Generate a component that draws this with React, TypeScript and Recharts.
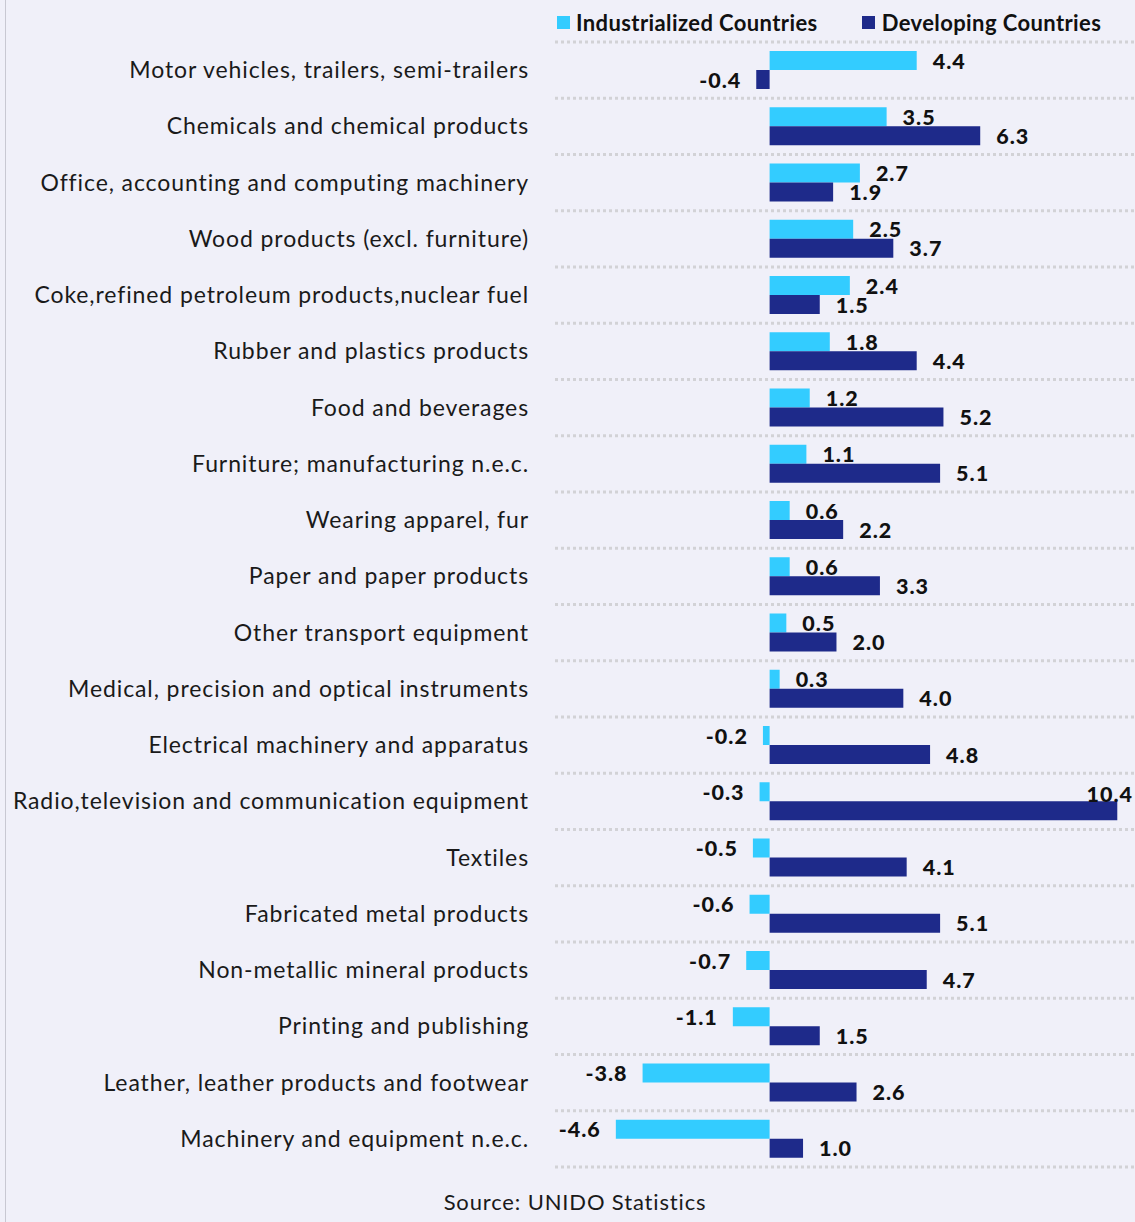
import React from "react";
import {
  BarChart,
  Bar,
  XAxis,
  YAxis,
  CartesianGrid,
  LabelList,
} from "recharts";

const categories = [
  "Motor vehicles, trailers, semi-trailers",
  "Chemicals and chemical products",
  "Office, accounting and computing machinery",
  "Wood products (excl. furniture)",
  "Coke,refined petroleum products,nuclear fuel",
  "Rubber and plastics products",
  "Food and beverages",
  "Furniture; manufacturing n.e.c.",
  "Wearing apparel, fur",
  "Paper and paper products",
  "Other transport equipment",
  "Medical, precision and optical instruments",
  "Electrical machinery and apparatus",
  "Radio,television and communication equipment",
  "Textiles",
  "Fabricated metal products",
  "Non-metallic mineral products",
  "Printing and publishing",
  "Leather, leather products and footwear",
  "Machinery and equipment n.e.c.",
];

const industrialized = [
  4.4, 3.5, 2.7, 2.5, 2.4, 1.8, 1.2, 1.1, 0.6, 0.6, 0.5, 0.3, -0.2, -0.3, -0.5,
  -0.6, -0.7, -1.1, -3.8, -4.6,
];

const developing = [
  -0.4, 6.3, 1.9, 3.7, 1.5, 4.4, 5.2, 5.1, 2.2, 3.3, 2.0, 4.0, 4.8, 10.4, 4.1,
  5.1, 4.7, 1.5, 2.6, 1.0,
];

const seriesNames = ["Industrialized Countries", "Developing Countries"];

const CHART_W = 1135;
const CHART_H = 1222;
const CYAN = "#33CCFF";
const NAVY = "#1E2A8A";
const BG = "#F0F0F9";
const FONT = "Lato, 'Open Sans', sans-serif";

const data = categories.map((name, i) => ({
  name,
  ind: industrialized[i],
  dev: developing[i],
}));

// value label next to the end of each bar, kept inside the chart edge
const renderValue = (props: any) => {
  const { x, y, width, height, value } = props;
  const v = Number(value);
  const left = Math.min(x, x + width);
  const right = Math.max(x, x + width);
  let cy = y + height / 2 + 8;
  let tx = right + 16;
  let anchor: "start" | "end" = "start";
  if (v < 0) {
    tx = left - 15;
    anchor = "end";
  } else if (tx + 48 > CHART_W) {
    // no room on the right: pull it back inside and lift it over the bar
    tx = CHART_W - 2;
    anchor = "end";
    cy -= 17;
  }
  return (
    <text
      x={tx}
      y={cy}
      textAnchor={anchor}
      fontFamily={FONT}
      fontWeight={900}
      fontSize={21.5}
      letterSpacing={1}
      fill="#111"
    >
      {v.toFixed(1)}
    </text>
  );
};

const CategoryTick = (props: any) => {
  const { x, y, payload } = props;
  return (
    <text
      x={x - 18}
      y={y + 8}
      textAnchor="end"
      fontFamily={FONT}
      fontSize={23}
      letterSpacing={0.9}
      fill="#1a1a1a"
    >
      {payload.value}
    </text>
  );
};

export default function App() {
  return (
    <div
      style={{
        position: "absolute",
        left: 0,
        top: 0,
        width: CHART_W,
        height: CHART_H,
        background: BG,
        fontFamily: FONT,
      }}
    >
      <div
        style={{
          position: "absolute",
          left: 5,
          top: 0,
          width: 1,
          height: CHART_H,
          background: "#C8C8D2",
        }}
      />

      {/* legend */}
      <div
        style={{
          position: "absolute",
          left: 557,
          top: 9,
          display: "flex",
          alignItems: "center",
          fontWeight: 700,
          fontSize: 22,
          letterSpacing: 0.4,
          color: "#111",
        }}
      >
        <span style={{ width: 13, height: 13, background: CYAN, marginRight: 6 }} />
        <span style={{ marginRight: 44 }}>{seriesNames[0]}</span>
        <span style={{ width: 13, height: 13, background: NAVY, marginRight: 7 }} />
        <span>{seriesNames[1]}</span>
      </div>

      <BarChart
        width={CHART_W}
        height={CHART_H}
        data={data}
        layout="vertical"
        margin={{ top: 42, right: 0, left: 0, bottom: 55 }}
        barGap={0}
        style={{ position: "absolute", left: 0, top: 0 }}
      >
        <CartesianGrid
          vertical={false}
          stroke="#D2D2D6"
          strokeWidth={3}
          strokeDasharray="3 3"
          horizontalCoordinatesGenerator={({ offset }: any) =>
            categories
              .concat([""])
              .map((_, i) => offset.top + (i * offset.height) / categories.length)
          }
        />
        <XAxis type="number" domain={[-6.42, 10.93]} hide />
        <YAxis
          type="category"
          dataKey="name"
          width={555}
          axisLine={false}
          tickLine={false}
          interval={0}
          tick={<CategoryTick />}
        />
        <Bar dataKey="ind" fill={CYAN} barSize={19} isAnimationActive={false}>
          <LabelList dataKey="ind" content={renderValue} />
        </Bar>
        <Bar dataKey="dev" fill={NAVY} barSize={19} isAnimationActive={false}>
          <LabelList dataKey="dev" content={renderValue} />
        </Bar>
      </BarChart>

      <div
        style={{
          position: "absolute",
          left: 0,
          width: CHART_W + 15,
          top: 1188,
          textAlign: "center",
          fontSize: 22,
          letterSpacing: 0.85,
          color: "#1a1a1a",
        }}
      >
        Source: UNIDO Statistics
      </div>
    </div>
  );
}
